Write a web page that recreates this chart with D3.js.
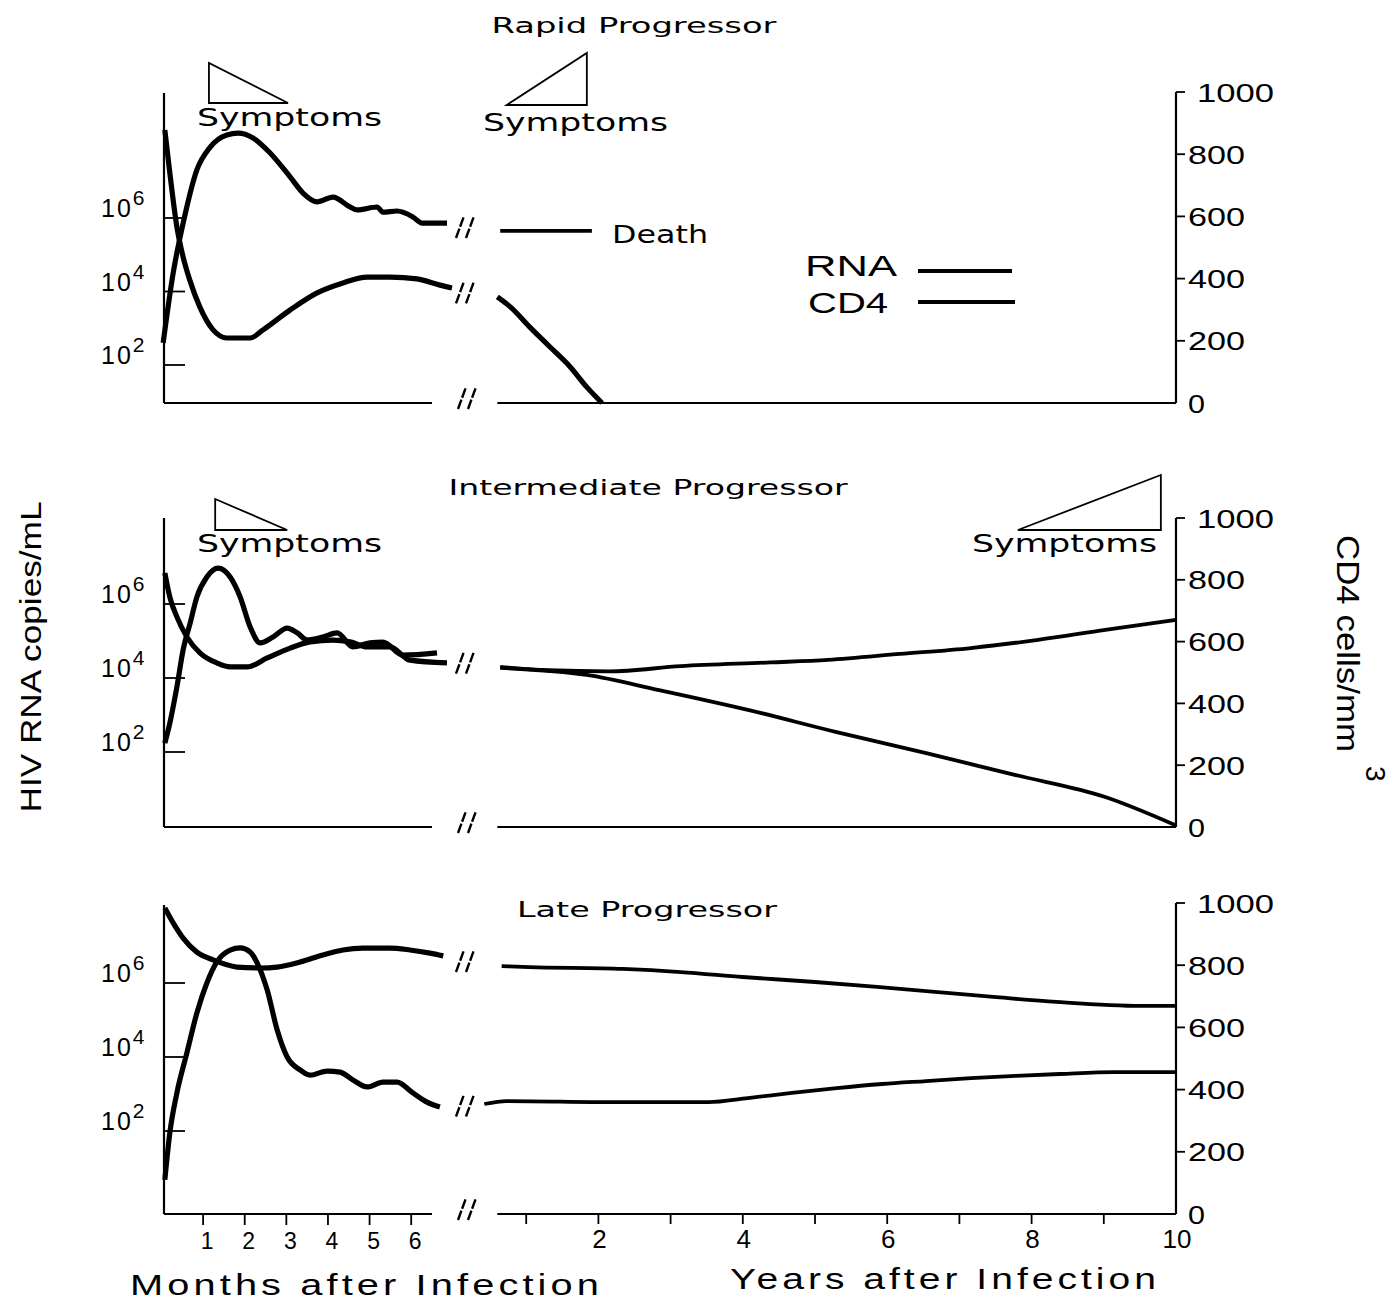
<!DOCTYPE html>
<html>
<head>
<meta charset="utf-8">
<script src="https://cdn.jsdelivr.net/npm/d3@7"></script>
<style>
body{margin:0;background:#fff;}
svg{display:block;}
</style>
</head>
<body>
<svg id="chart" width="1398" height="1302"></svg>
<script>
// values. months data = [month, value], years data = [year, value]
// RNA values are log10 copies/mL, CD4 values are cells/mm3
var RAPID_RNA_MONTHS = [[0.04,2.6],[0.28,4.5],[0.52,5.86],[0.85,7.31],[1.17,7.93],[1.57,8.26],[1.84,8.31],[2.2,8.18],[2.61,7.77],[3.09,7.12],[3.4,6.68],[3.74,6.44],[4.12,6.57],[4.53,6.3],[4.7,6.22],[5.18,6.3],[5.32,6.16],[5.66,6.19],[6.04,6.03],[6.26,5.86],[6.86,5.86]];
var RAPID_CD4_MONTHS = [[0.08,878],[0.2,740],[0.37,566],[0.52,469],[0.68,395],[0.92,309],[1.24,235],[1.57,209],[2.13,209],[2.44,235],[3.09,299],[3.74,354],[4.36,386],[4.94,405],[5.49,405],[6.14,399],[6.69,379],[6.98,370]];
var RAPID_RNA_YEARS = [[0.64,5.65],[1.91,5.65]];
var RAPID_CD4_YEARS = [[0.6,341],[0.78,309],[1.05,244],[1.33,180],[1.61,116],[1.84,51],[2.05,0]];

var INTER_RNA_MONTHS = [[0.08,2.24],[0.2,2.78],[0.37,3.76],[0.52,4.76],[0.69,5.49],[0.85,6.19],[1.09,6.73],[1.36,6.97],[1.65,6.73],[1.89,6.19],[2.13,5.38],[2.37,4.95],[2.68,5.11],[3.02,5.35],[3.26,5.22],[3.5,5.03],[3.88,5.11],[4.22,5.22],[4.6,4.84],[5.01,4.95],[5.32,4.97],[5.8,4.62],[6.62,4.68]];
var INTER_CD4_MONTHS = [[0.08,822],[0.2,744],[0.37,680],[0.61,615],[0.93,563],[1.33,531],[1.65,518],[2.06,518],[2.54,547],[3.09,579],[3.57,599],[4.12,605],[4.53,599],[4.94,583],[5.49,583],[5.97,540],[6.86,531]];
var INTER_RNA_YEARS = [[0.64,4.3],[1.3,4.21],[2.15,4.18],[3.14,4.32],[4.38,4.42],[5.18,4.49],[6.18,4.65],[7.16,4.81],[8.09,5.03],[9.02,5.3],[10,5.57]];
var INTER_CD4_YEARS = [[0.64,515],[1.84,492],[2.84,443],[4.07,379],[5.3,307],[6.54,239],[7.78,168],[9.02,97],[10,5]];

var LATE_RNA_MONTHS = [[0.08,0.68],[0.2,1.95],[0.37,3.03],[0.61,4.11],[0.85,5.19],[1.09,6.0],[1.33,6.57],[1.65,6.89],[1.89,6.95],[2.13,6.84],[2.3,6.54],[2.54,5.81],[2.78,4.73],[3.02,4.0],[3.33,3.65],[3.57,3.51],[3.98,3.62],[4.29,3.59],[4.6,3.38],[4.94,3.19],[5.32,3.32],[5.66,3.32],[6.04,3.03],[6.38,2.78],[6.69,2.65]];
var LATE_CD4_MONTHS = [[0.08,984],[0.28,936],[0.52,887],[0.85,842],[1.24,817],[1.81,794],[2.37,791],[2.78,794],[3.33,810],[3.88,833],[4.36,849],[4.84,855],[5.49,855],[5.97,849],[6.45,839],[6.77,830]];
var LATE_RNA_YEARS = [[0.42,2.73],[0.73,2.81],[2.22,2.78],[3.52,2.78],[4.07,2.89],[4.68,3.03],[5.3,3.16],[5.93,3.27],[6.54,3.35],[7.16,3.43],[7.78,3.49],[8.39,3.54],[9.14,3.59],[10,3.59]];
var LATE_CD4_YEARS = [[0.66,797],[1.04,794],[2.34,788],[3.14,778],[4,762],[5,746],[5.86,730],[6.66,714],[7.47,698],[8.34,682],[9.52,669],[10,669]];

// symptom periods (start, end)
var SYM_RAPID_EARLY = [1.14, 3.04];   // months
var SYM_RAPID_LATE = [0.73, 1.84];    // years
var SYM_INTER_EARLY = [1.29, 3.02];   // months
var SYM_INTER_LATE = [7.81, 9.79];    // years

var CD4_TICKS = [0, 200, 400, 600, 800, 1000];
var RNA_TICKS = [2, 4, 6];
var MONTH_TICKS = [1, 2, 3, 4, 5, 6];
var YEAR_TICKS = [1, 2, 3, 4, 5, 6, 7, 8, 9];
var YEAR_LABELS = [2, 4, 6, 8, 10];
var TITLES = ['Rapid Progressor', 'Intermediate Progressor', 'Late Progressor'];

var svg = d3.select('#chart');
var BLACK = '#000';
var SANS = 'Liberation Sans, Arial, sans-serif';
var PIX = 'DejaVu Sans, Verdana, sans-serif';

var xM = d3.scaleLinear().domain([0, 6.5]).range([161.5, 432]);
var xY = d3.scaleLinear().domain([0, 10]).range([454, 1176]);
var AXL = 164, AXR = xY(10);

// layout of the three panels
var panels = [
	{title: TITLES[0], top: 92, bottom: 403, y2: 365, y6: 218, axTop: 93, tx: 634, ty: 33, tw: 285,
	 rnaM: RAPID_RNA_MONTHS, cd4M: RAPID_CD4_MONTHS, rnaY: RAPID_RNA_YEARS, cd4Y: RAPID_CD4_YEARS},
	{title: TITLES[1], top: 518, bottom: 827, y2: 752, y6: 604, axTop: 518, tx: 648, ty: 495, tw: 399,
	 rnaM: INTER_RNA_MONTHS, cd4M: INTER_CD4_MONTHS, rnaY: INTER_RNA_YEARS, cd4Y: INTER_CD4_YEARS},
	{title: TITLES[2], top: 903, bottom: 1214, y2: 1131, y6: 983, axTop: 905, tx: 647, ty: 917, tw: 260,
	 rnaM: LATE_RNA_MONTHS, cd4M: LATE_CD4_MONTHS, rnaY: LATE_RNA_YEARS, cd4Y: LATE_CD4_YEARS}
];

function breakMark(g, cx, cy){
	for(var k=0; k<2; k++){
		var x0 = cx - 9 + k*10;
		g.append('line')
			.attr('x1', x0 - 4).attr('y1', cy + 11)
			.attr('x2', x0 + 4).attr('y2', cy - 11)
			.attr('stroke', BLACK).attr('stroke-width', 2.4)
			.attr('stroke-dasharray', '10,2');
	}
}

panels.forEach(function(p, i){
	var g = svg.append('g');
	var yC = d3.scaleLinear().domain([0, 1000]).range([p.bottom, p.top]);
	var yR = d3.scaleLog().domain([1e2, 1e6]).range([p.y2, p.y6]);
	var rnaY = function(v){ return yR(Math.pow(10, v)); };

	// title
	g.append('text').attr('x', p.tx).attr('y', p.ty)
		.attr('text-anchor', 'middle').attr('font-family', PIX).attr('font-size', 22)
		.attr('textLength', p.tw).attr('lengthAdjust', 'spacingAndGlyphs')
		.text(p.title);

	// left axis
	g.append('line').attr('x1', AXL).attr('x2', AXL).attr('y1', p.axTop).attr('y2', p.bottom)
		.attr('stroke', BLACK).attr('stroke-width', 2.2);
	RNA_TICKS.forEach(function(t){
		var y = rnaY(t);
		g.append('line').attr('x1', AXL).attr('x2', AXL + 21).attr('y1', y).attr('y2', y)
			.attr('stroke', BLACK).attr('stroke-width', 1.8);
		var tx = g.append('text').attr('x', 101).attr('y', y - 1)
			.attr('font-family', SANS).attr('font-size', 25);
		tx.append('tspan').attr('letter-spacing', 2).text('10');
		tx.append('tspan').attr('dy', -12).attr('font-size', 21).text(t);
	});

	// right axis
	g.append('line').attr('x1', AXR).attr('x2', AXR).attr('y1', yC(1000)).attr('y2', p.bottom)
		.attr('stroke', BLACK).attr('stroke-width', 2.2);
	CD4_TICKS.forEach(function(t){
		var y = yC(t);
		if(t > 0){
			g.append('line').attr('x1', AXR).attr('x2', AXR + 9).attr('y1', y).attr('y2', y)
				.attr('stroke', BLACK).attr('stroke-width', 1.8);
		}
		var lbl = String(t);
		g.append('text').attr('x', t == 1000 ? 1197 : 1188).attr('y', y + 9.5)
			.attr('font-family', SANS).attr('font-size', 26)
			.attr('textLength', lbl.length * 20 - 3).attr('lengthAdjust', 'spacingAndGlyphs')
			.text(lbl);
	});

	// baseline in two pieces with break
	g.append('line').attr('x1', AXL).attr('x2', xM(6.5)).attr('y1', p.bottom).attr('y2', p.bottom)
		.attr('stroke', BLACK).attr('stroke-width', 2.2);
	g.append('line').attr('x1', xY(0.6)).attr('x2', AXR).attr('y1', p.bottom).attr('y2', p.bottom)
		.attr('stroke', BLACK).attr('stroke-width', 2.2);
	breakMark(g, 471, p.bottom - 5);

	var lineM = function(ys){ return d3.line().x(function(d){ return xM(d[0]); }).y(function(d){ return ys(d[1]); }).curve(d3.curveMonotoneX); };
	var lineY = function(ys){ return d3.line().x(function(d){ return xY(d[0]); }).y(function(d){ return ys(d[1]); }).curve(d3.curveMonotoneX); };

	g.append('path').attr('d', lineM(rnaY)(p.rnaM)).attr('fill', 'none').attr('stroke', BLACK).attr('stroke-width', 5.2).attr('stroke-linejoin', 'round');
	g.append('path').attr('d', lineM(yC)(p.cd4M)).attr('fill', 'none').attr('stroke', BLACK).attr('stroke-width', 5.2).attr('stroke-linejoin', 'round');
	g.append('path').attr('d', lineY(rnaY)(p.rnaY)).attr('fill', 'none').attr('stroke', BLACK).attr('stroke-width', 3.8);
	g.append('path').attr('d', lineY(yC)(p.cd4Y)).attr('fill', 'none').attr('stroke', BLACK).attr('stroke-width', i == 0 ? 5.2 : 3.8);

	// break marks where the curves jump from months to years
	var ys = [
		(rnaY(p.rnaM[p.rnaM.length-1][1]) + rnaY(p.rnaY[0][1])) / 2,
		(yC(p.cd4M[p.cd4M.length-1][1]) + yC(p.cd4Y[0][1])) / 2
	];
	if(Math.abs(ys[0] - ys[1]) < 10){ ys = [(ys[0] + ys[1]) / 2]; }
	ys.forEach(function(y){ breakMark(g, 469, y); });
});

// symptom triangles
function symptoms(range, x, dir, top, bottom, textX, textY){
	var x0 = x(range[0]), x1 = x(range[1]);
	var pts = dir == 'down' ? [[x0, top], [x0, bottom], [x1, bottom]] : [[x0, bottom], [x1, bottom], [x1, top]];
	svg.append('path').attr('d', 'M' + pts.join('L') + 'Z')
		.attr('fill', 'none').attr('stroke', BLACK).attr('stroke-width', 1.8);
	svg.append('text').attr('x', textX).attr('y', textY)
		.attr('font-family', PIX).attr('font-size', 24)
		.attr('textLength', 185).attr('lengthAdjust', 'spacingAndGlyphs')
		.text('Symptoms');
}
symptoms(SYM_RAPID_EARLY, xM, 'down', 63, 103, 197, 126);
symptoms(SYM_RAPID_LATE, xY, 'up', 53, 105, 483, 131);
symptoms(SYM_INTER_EARLY, xM, 'down', 499, 530, 197, 552);
symptoms(SYM_INTER_LATE, xY, 'up', 475, 530, 972, 552);

svg.append('text').attr('x', 612).attr('y', 243)
	.attr('font-family', PIX).attr('font-size', 24)
	.attr('textLength', 96).attr('lengthAdjust', 'spacingAndGlyphs')
	.text('Death');

// legend
svg.append('text').attr('x', 805).attr('y', 276).attr('font-family', SANS).attr('font-size', 30)
	.attr('textLength', 92).attr('lengthAdjust', 'spacingAndGlyphs').text('RNA');
svg.append('text').attr('x', 808).attr('y', 313).attr('font-family', SANS).attr('font-size', 30)
	.attr('textLength', 80).attr('lengthAdjust', 'spacingAndGlyphs').text('CD4');
svg.append('line').attr('x1', 918).attr('x2', 1012).attr('y1', 271).attr('y2', 271).attr('stroke', BLACK).attr('stroke-width', 4);
svg.append('line').attr('x1', 918).attr('x2', 1015).attr('y1', 302).attr('y2', 302).attr('stroke', BLACK).attr('stroke-width', 4);

// bottom axes (only under last panel)
var base = panels[2].bottom;
MONTH_TICKS.forEach(function(m){
	svg.append('line').attr('x1', xM(m)).attr('x2', xM(m)).attr('y1', base).attr('y2', base + 11)
		.attr('stroke', BLACK).attr('stroke-width', 1.8);
	svg.append('text').attr('x', xM(m) + 4).attr('y', 1249).attr('text-anchor', 'middle')
		.attr('font-family', SANS).attr('font-size', 23).text(m);
});
YEAR_TICKS.forEach(function(y){
	svg.append('line').attr('x1', xY(y)).attr('x2', xY(y)).attr('y1', base).attr('y2', base + 10)
		.attr('stroke', BLACK).attr('stroke-width', 1.8);
});
YEAR_LABELS.forEach(function(y){
	svg.append('text').attr('x', xY(y) + 1).attr('y', 1248).attr('text-anchor', 'middle')
		.attr('font-family', SANS).attr('font-size', 26).text(y);
});

// axis titles: wide glyphs, a little spaced
svg.append('text').attr('x', 130).attr('y', 1295).attr('font-family', SANS).attr('font-size', 29)
	.attr('font-stretch', 'expanded').attr('letter-spacing', 3)
	.attr('textLength', 473).attr('lengthAdjust', 'spacingAndGlyphs').text('Months after Infection');
svg.append('text').attr('x', 730).attr('y', 1289).attr('font-family', SANS).attr('font-size', 29)
	.attr('letter-spacing', 3)
	.attr('textLength', 430).attr('lengthAdjust', 'spacingAndGlyphs').text('Years after Infection');

// side titles
svg.append('text').attr('transform', 'translate(41,657) rotate(-90)')
	.attr('text-anchor', 'middle').attr('font-family', SANS).attr('font-size', 29)
	.attr('textLength', 311).attr('lengthAdjust', 'spacingAndGlyphs')
	.text('HIV RNA copies/mL');
svg.append('text').attr('transform', 'translate(1337,535) rotate(90)')
	.attr('font-family', SANS).attr('font-size', 31)
	.attr('textLength', 217).attr('lengthAdjust', 'spacingAndGlyphs')
	.text('CD4 cells/mm');
svg.append('text').attr('transform', 'translate(1366,766) rotate(90)')
	.attr('font-family', SANS).attr('font-size', 28)
	.text('3');
</script>
</body>
</html>
